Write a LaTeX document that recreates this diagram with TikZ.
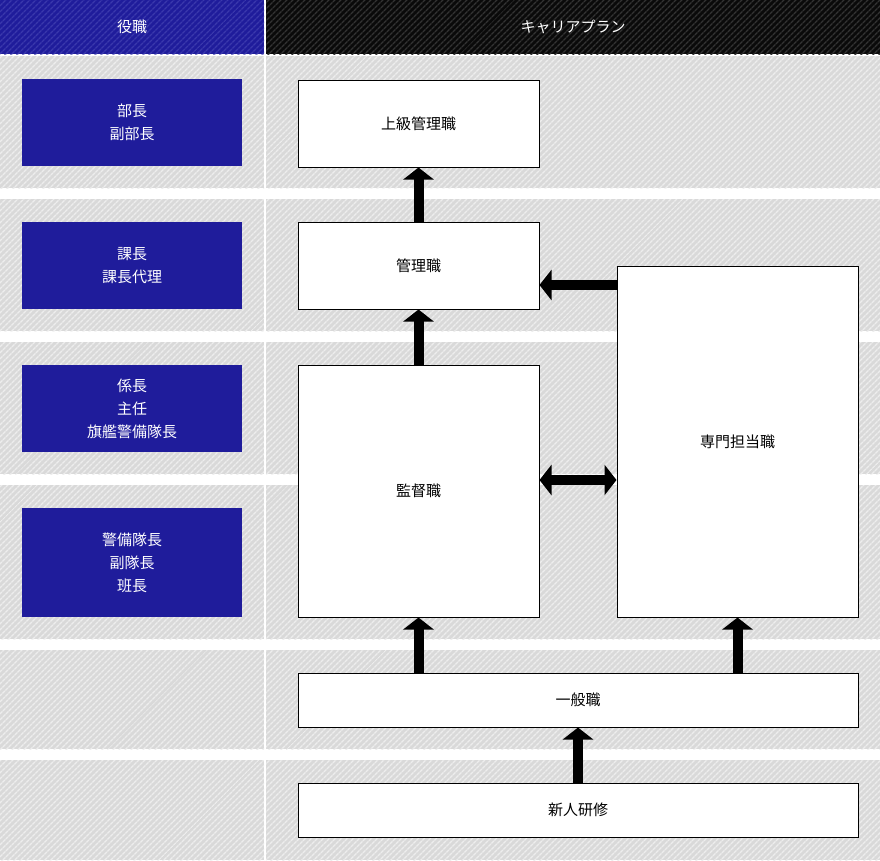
\documentclass[tikz,border=0pt]{standalone}
\usepackage{fontspec}
\setmainfont{Noto Sans CJK JP}
\usetikzlibrary{arrows.meta,patterns.meta}

\definecolor{rankblue}{HTML}{1F1C9B}
\definecolor{headblue}{HTML}{1F1C9B}
\definecolor{headblueline}{HTML}{3A38AC}
\definecolor{headblack}{HTML}{0A0A0A}
\definecolor{headblackline}{HTML}{333333}
\definecolor{bandgray}{HTML}{D9D9D9}
\definecolor{bandline}{HTML}{EDEDED}

\tikzset{
  hatch/.style 2 args={preaction={fill=#1},
    pattern={Lines[angle=45,distance=4pt,line width=1.4pt]}, pattern color=#2},
  band/.style={hatch={bandgray}{bandline}},
  headtext/.style={text=white, font=\fontsize{15}{23}\selectfont},
  rankbox/.style={fill=rankblue, text=white, minimum width=220pt, inner sep=0pt,
    align=center, font=\fontsize{15}{23}\selectfont},
  careerbox/.style={draw=black, fill=white, line width=1pt, minimum width=241pt,
    inner sep=0pt, align=center, font=\fontsize{15}{23}\selectfont},
  bigarrow/.style={line width=10pt, -{Triangle[width=30pt,length=12pt]}},
  bigdouble/.style={line width=10pt, {Triangle[width=30pt,length=12pt]}-{Triangle[width=30pt,length=12pt]}}
}

\begin{document}
\begin{tikzpicture}[x=1pt,y=-1pt]
  \useasboundingbox (0,0) rectangle (880,860);
  \fill[white] (0,0) rectangle (880,860);

  % header
  \path[hatch={headblue}{headblueline}] (0,0) rectangle (264,54);
  \path[hatch={headblack}{headblackline}] (266,0) rectangle (880,54);
  \node[headtext] (yakushoku) at (132,27) {役職};
  \node[headtext] (career) at (573,27) {キャリアプラン};

  % row bands
  \foreach \top/\bot in {56/188,199/331,342/474,485/639,650/749,760/860} {
    \path[band] (0,\top) rectangle (264,\bot);
    \path[band] (266,\top) rectangle (880,\bot);
  }

  % ranks
  \node[rankbox, minimum height=87pt] (bucho) at (132,122.5) {部長\\副部長};
  \node[rankbox, minimum height=87pt] (kacho) at (132,265.5) {課長\\課長代理};
  \node[rankbox, minimum height=87pt] (kakaricho) at (132,408.5) {係長\\主任\\旗艦警備隊長};
  \node[rankbox, minimum height=109pt] (taicho) at (132,562.5) {警備隊長\\副隊長\\班長};

  % career plan
  \node[careerbox, minimum height=87pt] (joukyuu) at (418.5,123.5) {上級管理職};
  \node[careerbox, minimum height=87pt] (kanri) at (418.5,265.5) {管理職};
  \node[careerbox, minimum height=252pt] (kantoku) at (418.5,491) {監督職};
  \node[careerbox, minimum height=351pt] (senmon) at (737.5,441.5) {専門担当職};
  \node[careerbox, minimum width=560pt, minimum height=54pt] (ippan) at (578,700) {一般職};
  \node[careerbox, minimum width=560pt, minimum height=54pt] (kenshu) at (578,810) {新人研修};

  \draw[bigarrow] (kanri) -- (joukyuu);
  \draw[bigarrow] (kantoku) -- (kanri);
  \draw[bigarrow] (senmon.west |- 0,285) -- (kanri.east |- 0,285);
  \draw[bigdouble] (kantoku.east |- 0,480) -- (senmon.west |- 0,480);
  \draw[bigarrow] (kantoku.south |- ippan.north) -- (kantoku.south);
  \draw[bigarrow] (senmon.south |- ippan.north) -- (senmon.south);
  \draw[bigarrow] (kenshu) -- (ippan);
\end{tikzpicture}
\end{document}
